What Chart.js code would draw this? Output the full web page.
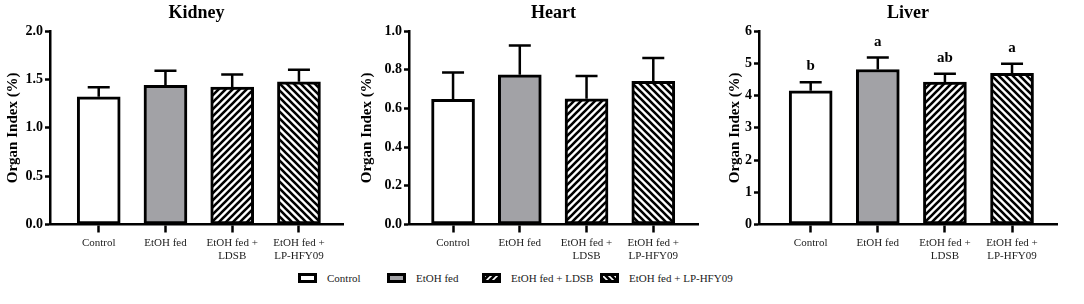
<!DOCTYPE html>
<html>
<head>
<meta charset="utf-8">
<script src="https://cdn.jsdelivr.net/npm/chart.js@4.4.1/dist/chart.umd.min.js"></script>
<style>
    body { margin: 0; background: #fff; width: 1084px; height: 304px; position: relative; overflow: hidden; }
    .panel { position: absolute; top: 0; height: 270px; }
    #legend { position: absolute; top: 270px; left: 0; width: 1084px; height: 18px; font-family: "Liberation Serif", serif; font-size: 11px; color: #222; }
    .item { position: absolute; top: 2px; display: flex; align-items: center; }
    .item canvas { margin-right: 10px; }
</style>
</head>
<body>
<div class="panel" style="left:0;width:360px"><canvas id="kidney" width="360" height="270"></canvas></div>
<div class="panel" style="left:360px;width:360px"><canvas id="heart" width="360" height="270"></canvas></div>
<div class="panel" style="left:720px;width:364px"><canvas id="liver" width="364" height="270"></canvas></div>
<div id="legend"></div>
<script>
// groups
const categories = ['Control', 'EtOH fed', 'EtOH fed + LDSB', 'EtOH fed + LP-HFY09'];
const tickLabels = [['Control'], ['EtOH fed'], ['EtOH fed +', 'LDSB'], ['EtOH fed +', 'LP-HFY09']];

// means and error (upper whisker)
const kidneyMeans = [1.32, 1.44, 1.42, 1.475];
const kidneyErr   = [0.10, 0.15, 0.13, 0.125];
const kidneyYTicks = [0, 0.5, 1.0, 1.5, 2.0];

const heartMeans = [0.647, 0.774, 0.65, 0.74];
const heartErr   = [0.139, 0.152, 0.118, 0.121];
const heartYTicks = [0, 0.2, 0.4, 0.6, 0.8, 1.0];

const liverMeans = [4.15, 4.81, 4.42, 4.69];
const liverErr   = [0.26, 0.37, 0.26, 0.30];
const liverYTicks = [0, 1, 2, 3, 4, 5, 6];
const liverLetters = ['b', 'a', 'ab', 'a'];

const FONT = '"Liberation Serif", "Times New Roman", serif';
const GREY = '#a2a2a6';

function makeHatch(dir) {
    const s = 7;
    const c = document.createElement('canvas');
    c.width = s; c.height = s;
    const g = c.getContext('2d');
    g.fillStyle = '#fff';
    g.fillRect(0, 0, s, s);
    g.strokeStyle = '#000';
    g.lineWidth = 2.6;
    g.beginPath();
    for (let k = -1; k <= 1; k++) {
        if (dir === '/') {
            g.moveTo(k * s - 1, s + 1); g.lineTo(k * s + s + 1, -1);
        } else {
            g.moveTo(k * s - 1, -1); g.lineTo(k * s + s + 1, s + 1);
        }
    }
    g.stroke();
    return g.createPattern(c, 'repeat');
}

const fills = ['#ffffff', GREY, makeHatch('/'), makeHatch('\\')];

const errorBars = {
    id: 'errorBars',
    afterDatasetsDraw(chart) {
        const { ctx, scales: { y } } = chart;
        const meta = chart.getDatasetMeta(0);
        const ds = chart.data.datasets[0];
        ctx.save();
        ctx.strokeStyle = '#000';
        ctx.lineWidth = 2.5;
        meta.data.forEach((el, i) => {
            const top = y.getPixelForValue(ds.data[i].y + ds.err[i]);
            ctx.beginPath();
            ctx.moveTo(el.x, el.y);
            ctx.lineTo(el.x, top);
            ctx.moveTo(el.x - 11, top);
            ctx.lineTo(el.x + 11, top);
            ctx.stroke();
            if (ds.letters) {
                ctx.fillStyle = '#000';
                ctx.font = 'bold 15px ' + FONT;
                ctx.textAlign = 'center';
                ctx.textBaseline = 'alphabetic';
                ctx.fillText(ds.letters[i], el.x, top - 12);
            }
        });
        ctx.restore();
    }
};

function buildChart(id, title, means, err, yTicks, decimals, xRange, padRight, titlePad, letters) {
    const ctx = document.getElementById(id).getContext('2d');
    return new Chart(ctx, {
        type: 'bar',
        data: {
            datasets: [{
                data: means.map((v, i) => ({ x: i, y: v })),
                err,
                letters,
                backgroundColor: fills,
                borderColor: '#000',
                borderWidth: 3,
                borderSkipped: false,
                barThickness: 43
            }]
        },
        options: {
            responsive: false,
            animation: false,
            layout: { padding: { left: 0, right: padRight, top: 0, bottom: 0 } },
            plugins: {
                legend: { display: false },
                tooltip: { enabled: false },
                title: {
                    display: true,
                    text: title,
                    fullSize: false,
                    color: '#000',
                    font: { family: FONT, size: 18, weight: 'bold', lineHeight: 1.2 },
                    padding: { top: 3, bottom: 6.5 }
                }
            },
            scales: {
                x: {
                    type: 'linear',
                    offset: false,
                    min: xRange[0],
                    max: xRange[1],
                    afterBuildTicks: s => { s.ticks = categories.map((_, i) => ({ value: i })); },
                    afterFit: s => { s.height = 45.5; },
                    grid: { offset: false, drawOnChartArea: false, color: '#000', tickLength: 8, tickWidth: 2.5 },
                    border: { color: '#000', width: 2.5 },
                    ticks: {
                        autoSkip: false,
                        maxRotation: 0,
                        padding: 4,
                        color: '#222',
                        font: { family: FONT, size: 11, lineHeight: 1.2 },
                        callback: v => tickLabels[v]
                    }
                },
                y: {
                    min: yTicks[0],
                    max: yTicks[yTicks.length - 1],
                    afterBuildTicks: s => { s.ticks = yTicks.map(v => ({ value: v })); },
                    afterFit: s => { s.width = xRange[2]; },
                    grid: { drawOnChartArea: false, color: '#000', tickLength: 5, tickWidth: 2.5 },
                    border: { color: '#000', width: 2.5 },
                    ticks: {
                        padding: 2,
                        color: '#000',
                        font: { family: FONT, size: 14, weight: 'bold' },
                        callback: v => v.toFixed(decimals)
                    },
                    title: {
                        display: true,
                        text: 'Organ Index (%)',
                        color: '#000',
                        font: { family: FONT, size: 15, weight: 'bold', lineHeight: 1 },
                        padding: { top: titlePad, bottom: 0 }
                    }
                }
            }
        },
        plugins: [errorBars]
    });
}

buildChart('kidney', 'Kidney', kidneyMeans, kidneyErr, kidneyYTicks, 1, [-0.73, 3.66, 50], 17, 5.5);
buildChart('heart', 'Heart', heartMeans, heartErr, heartYTicks, 1, [-0.66, 3.67, 49], 22, 0);
buildChart('liver', 'Liver', liverMeans, liverErr, liverYTicks, 0, [-0.77, 3.67, 39], 27, 7.5, liverLetters);

function makeHatchOn(g, dir) {
    const s = 6;
    const c = document.createElement('canvas');
    c.width = s; c.height = s;
    const h = c.getContext('2d');
    h.fillStyle = '#000';
    h.fillRect(0, 0, s, s);
    h.strokeStyle = '#fff';
    h.lineWidth = 1.6;
    h.beginPath();
    for (let k = -1; k <= 1; k++) {
        if (dir === '/') { h.moveTo(k * s - 1, s + 1); h.lineTo(k * s + s + 1, -1); }
        else { h.moveTo(k * s - 1, -1); h.lineTo(k * s + s + 1, s + 1); }
    }
    h.stroke();
    return g.createPattern(c, 'repeat');
}

// legend with swatches using the same fills
const legendX = [298, 387, 482, 600];
const legend = document.getElementById('legend');
categories.forEach((name, i) => {
    const item = document.createElement('div');
    item.className = 'item';
    item.style.left = legendX[i] + 'px';
    const sw = document.createElement('canvas');
    sw.width = 19; sw.height = 10;
    const g = sw.getContext('2d');
    g.fillStyle = ['#ffffff', GREY, makeHatchOn(g, '/'), makeHatchOn(g, '\\')][i];
    g.fillRect(0, 0, 19, 10);
    g.strokeStyle = '#000';
    g.lineWidth = 3;
    g.strokeRect(1.5, 1.5, 16, 7);
    const span = document.createElement('span');
    span.textContent = name;
    item.appendChild(sw);
    item.appendChild(span);
    legend.appendChild(item);
});
</script>
</body>
</html>
